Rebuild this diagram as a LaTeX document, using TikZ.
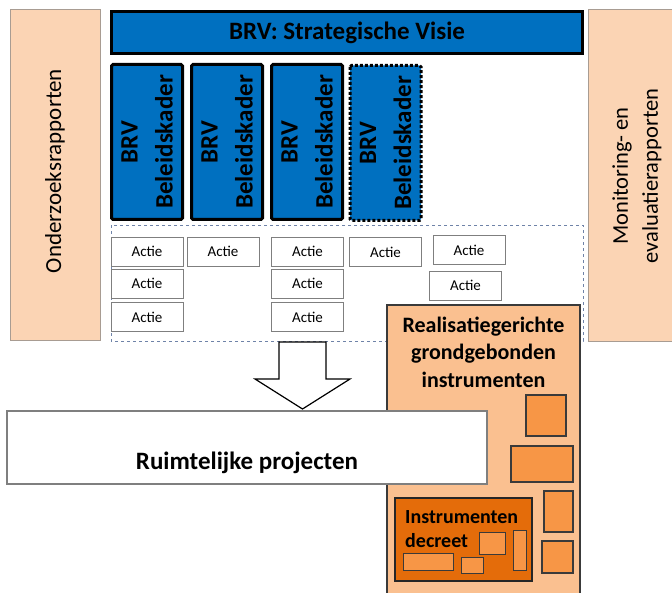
\documentclass[tikz,border=0pt]{standalone}
\usepackage{fontspec}
\setmainfont{Carlito}
\definecolor{peach}{HTML}{FBD4B4}
\definecolor{peachborder}{HTML}{A89C92}
\definecolor{brvblue}{HTML}{0070C0}
\definecolor{lightorange}{HTML}{FAC090}
\definecolor{midorange}{HTML}{F79646}
\definecolor{darkorange}{HTML}{E46C0A}
\definecolor{dashblue}{HTML}{6F83A8}
\definecolor{boxgray}{HTML}{7F7F7F}
\definecolor{darkline}{HTML}{3A3A3A}
\begin{document}
\begin{tikzpicture}[x=1pt,y=-1pt,
  panel/.style={draw=peachborder, fill=peach, line width=1pt},
  bluebox/.style={draw=black, fill=brvblue, line width=3pt, rounded corners=1.5pt, inner sep=0pt},
  kader/.style={bluebox, minimum width=71pt, minimum height=155pt, rotate=90, align=center,
     font=\fontsize{25}{35}\selectfont\bfseries},
  actie/.style={draw=boxgray, line width=0.9pt, fill=white, inner sep=0pt,
     minimum width=72pt, minimum height=29pt, font=\fontsize{15}{18}\selectfont},
  smallsq/.style={draw=darkline, fill=midorange, line width=1.2pt},
  tinysq/.style={draw=darkline, fill=midorange, line width=1pt}
]
\useasboundingbox (0,0) rectangle (672,593);
% side panels
\draw[panel] (10,10) rectangle (100,341);
\node[rotate=90, font=\fontsize{23}{28}\selectfont] (onderzoek) at (55,171) {Onderzoeksrapporten};
\draw[panel] (588,10) rectangle (684,342);
\node[rotate=90, align=center, font=\fontsize{22.5}{30}\selectfont] (monitoring) at (637,176) {Monitoring- en\\evaluatierapporten};
% strategic vision bar
\node[bluebox, rounded corners=0pt, minimum width=471pt, minimum height=42pt,
  font=\fontsize{25}{30}\selectfont\bfseries] (visie) at (347,32.5) {BRV: Strategische Visie};
% beleidskader columns
\node[kader, minimum width=155pt, minimum height=71pt] (k1) at (147,142) {BRV\\Beleidskader};
\node[kader, minimum width=155pt, minimum height=71pt] (k2) at (227,142) {BRV\\Beleidskader};
\node[kader, minimum width=155pt, minimum height=71pt] (k3) at (307,142) {BRV\\Beleidskader};
\node[kader, minimum width=155pt, minimum height=71pt, dotted] (k4) at (385.5,143) {BRV\\Beleidskader};
% actions container
\draw[dashblue, dashed, line width=0.8pt] (111,225) rectangle (583,341);
\node[actie] (a11) at (147,251.5) {Actie};
\node[actie] (a12) at (223,251.5) {Actie};
\node[actie] (a13) at (307.5,251.5) {Actie};
\node[actie] (a14) at (385.5,252) {Actie};
\node[actie] (a15) at (469,250) {Actie};
\node[actie] (a21) at (147,283.5) {Actie};
\node[actie] (a23) at (307.5,283.5) {Actie};
\node[actie] (a25) at (465.5,285.5) {Actie};
\node[actie] (a31) at (147,317) {Actie};
\node[actie] (a33) at (307.5,317) {Actie};
% realisation instruments box
\draw[draw=darkline, fill=lightorange, line width=2pt] (387,305) rectangle (580,600);
\node[align=center, font=\fontsize{22}{27.5}\selectfont\bfseries] (real) at (483.5,352) {Realisatiegerichte\\grondgebonden\\instrumenten};
% arrow
\draw[black, fill=white, line width=1.2pt, line join=miter]
  (279,342) -- (326,342) -- (326,379) -- (350,379) -- (302.5,409) -- (255,379) -- (279,379) -- cycle;
% ruimtelijke projecten
\draw[draw=boxgray, fill=white, line width=1.2pt] (7,411) rectangle (487,484);
\node[font=\fontsize{25}{30}\selectfont\bfseries] (projecten) at (247,463) {Ruimtelijke projecten};
% small instrument squares
\draw[smallsq] (526,395) rectangle (566,436);
\draw[smallsq] (511,446) rectangle (573,482);
\draw[smallsq] (544,491) rectangle (573,532);
\draw[smallsq] (542,541) rectangle (573,573);
% instrumentendecreet
\draw[draw=black!85, fill=darkorange, line width=1.5pt] (395,498) rectangle (532,581);
\node[anchor=west, align=left, inner sep=0pt, font=\fontsize{20}{24}\selectfont\bfseries] (decreet) at (405,529) {Instrumenten\\decreet};
\draw[tinysq] (479,532) rectangle (505,554);
\draw[tinysq] (513,530) rectangle (526,570);
\draw[tinysq] (403,553) rectangle (453,570);
\draw[tinysq] (461,557) rectangle (483,573);
\end{tikzpicture}
\end{document}
